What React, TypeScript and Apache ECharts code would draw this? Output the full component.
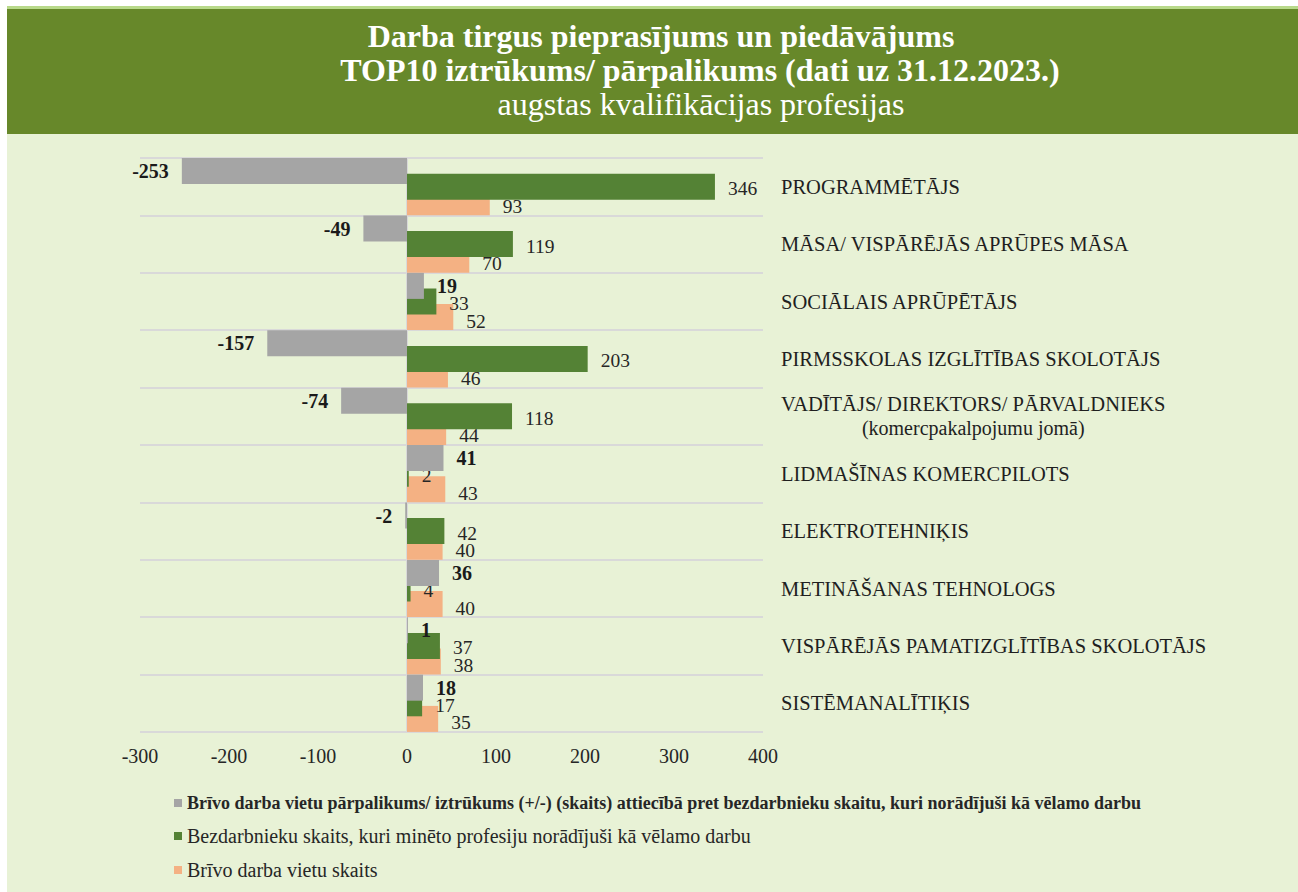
import React, { useEffect, useRef } from 'react';
import * as echarts from 'echarts';

const SERIF = '"Liberation Serif", "Times New Roman", serif';

const categories = [
  'PROGRAMMĒTĀJS',
  'MĀSA/ VISPĀRĒJĀS APRŪPES MĀSA',
  'SOCIĀLAIS APRŪPĒTĀJS',
  'PIRMSSKOLAS IZGLĪTĪBAS SKOLOTĀJS',
  'VADĪTĀJS/ DIREKTORS/ PĀRVALDNIEKS\n(komercpakalpojumu jomā)',
  'LIDMAŠĪNAS KOMERCPILOTS',
  'ELEKTROTEHNIĶIS',
  'METINĀŠANAS TEHNOLOGS',
  'VISPĀRĒJĀS PAMATIZGLĪTĪBAS SKOLOTĀJS',
  'SISTĒMANALĪTIĶIS',
];

const balance = [-253, -49, 19, -157, -74, 41, -2, 36, 1, 18];
const unemployed = [346, 119, 33, 203, 118, 2, 42, 4, 37, 17];
const vacancies = [93, 70, 52, 46, 44, 43, 40, 40, 38, 35];

const seriesNames = [
  'Brīvo darba vietu pārpalikums/ iztrūkums (+/-) (skaits) attiecībā pret bezdarbnieku skaitu, kuri norādījuši kā vēlamo darbu',
  'Bezdarbnieku skaits, kuri minēto profesiju norādījuši kā vēlamo darbu',
  'Brīvo darba vietu skaits',
];

const titleLines = [
  'Darba tirgus pieprasījums un piedāvājums',
  'TOP10 iztrūkums/ pārpalikums (dati uz 31.12.2023.)',
  'augstas kvalifikācijas profesijas',
];

const xMin = -300;
const xMax = 400;
const xStep = 100;

const colors = ['#a5a5a5', '#548235', '#f4b183'];

export default function App() {
  const ref = useRef<HTMLDivElement>(null);

  useEffect(() => {
    document.body.style.margin = '0';
    if (!ref.current) return;
    const chart = echarts.init(ref.current, null, { renderer: 'svg' });

    const labelBase = {
      fontFamily: SERIF,
      fontSize: 19.5,
      color: '#262626',
    };

    const titleStyle = (text: string, size: number, bold: boolean) => ({
      text,
      fill: '#ffffff',
      fontFamily: SERIF,
      fontSize: size,
      fontWeight: bold ? 'bold' : 'normal',
      align: 'center',
      verticalAlign: 'middle',
    });

    const option: any = {
      animation: false,
      backgroundColor: 'transparent',
      textStyle: { fontFamily: SERIF },
      graphic: [
        { type: 'text', x: 661, y: 36, style: titleStyle(titleLines[0], 32, true) },
        { type: 'text', x: 700, y: 70, style: titleStyle(titleLines[1], 32, true) },
        { type: 'text', x: 701, y: 104, style: titleStyle(titleLines[2], 32, false) },
      ],
      legend: {
        orient: 'vertical',
        left: 169,
        top: 789,
        itemWidth: 8,
        itemHeight: 8,
        itemGap: 14,
        icon: 'rect',
        textStyle: { fontFamily: SERIF, fontSize: 20, color: '#262626' },
        data: [
          { name: seriesNames[0], textStyle: { fontFamily: SERIF, fontSize: 18, fontWeight: 'bold', color: '#262626' } },
          { name: seriesNames[1], textStyle: { fontFamily: SERIF, fontSize: 20, color: '#262626' } },
          { name: seriesNames[2], textStyle: { fontFamily: SERIF, fontSize: 20, color: '#262626' } },
        ],
      },
      grid: { left: 140, top: 158, width: 623, height: 574, containLabel: false },
      xAxis: {
        type: 'value',
        min: xMin,
        max: xMax,
        interval: xStep,
        axisLine: { show: false },
        axisTick: { show: false },
        splitLine: { show: false },
        axisLabel: { ...labelBase, fontSize: 20, margin: 14 },
      },
      yAxis: [
        {
          type: 'category',
          inverse: true,
          data: categories,
          axisLine: { show: true, onZero: true, lineStyle: { color: '#d9d9d9', width: 2 } },
          axisTick: { show: false },
          axisLabel: { show: false },
          splitLine: { show: true, lineStyle: { color: '#d9d9d9', width: 2 } },
        },
        {
          type: 'category',
          inverse: true,
          position: 'right',
          data: categories,
          axisLine: { show: false, onZero: false },
          axisTick: { show: false },
          splitLine: { show: false },
          axisLabel: {
            ...labelBase,
            fontSize: 20.5,
            color: '#1f1f1f',
            align: 'left',
            margin: 18,
            lineHeight: 24,
            formatter: (v: string) => {
              const parts = v.split('\n');
              return parts.length > 1 ? parts[0] + '\n{sub|' + parts[1] + '}' : v;
            },
            rich: {
              sub: {
                fontFamily: SERIF,
                fontSize: 20,
                color: '#1f1f1f',
                align: 'center',
                lineHeight: 24,
              },
            },
          },
        },
      ],
      series: [
        {
          name: seriesNames[0],
          type: 'bar',
          yAxisIndex: 0,
          z: 4,
          barWidth: 26,
          barGap: '-40%',
          itemStyle: { color: colors[0] },
          label: { show: true, ...labelBase, fontSize: 20, color: '#1a1a1a', fontWeight: 'bold', distance: 13 },
          data: balance.map((v) => ({ value: v, label: { position: v < 0 ? 'left' : 'right' } })),
        },
        {
          name: seriesNames[1],
          type: 'bar',
          yAxisIndex: 0,
          z: 3,
          barWidth: 26,
          barGap: '-40%',
          itemStyle: { color: colors[1] },
          label: { show: true, ...labelBase, position: 'right', distance: 13, offset: [0, 2] },
          data: unemployed,
        },
        {
          name: seriesNames[2],
          type: 'bar',
          yAxisIndex: 0,
          z: 2,
          barWidth: 26,
          barGap: '-40%',
          itemStyle: { color: colors[2] },
          label: { show: true, ...labelBase, position: 'right', distance: 13, offset: [0, 4] },
          data: vacancies,
        },
      ],
    };

    chart.setOption(option);
    return () => chart.dispose();
  }, []);

  return (
    <div
      ref={ref}
      style={{
        width: 1298,
        height: 892,
        background:
          'linear-gradient(to bottom, #b8d98a 0px, #b8d98a 3px, #67882a 3px, #67882a 128px, #e8f2d6 128px) 7px 6px / 1291px 886px no-repeat, #ffffff',
      }}
    />
  );
}
